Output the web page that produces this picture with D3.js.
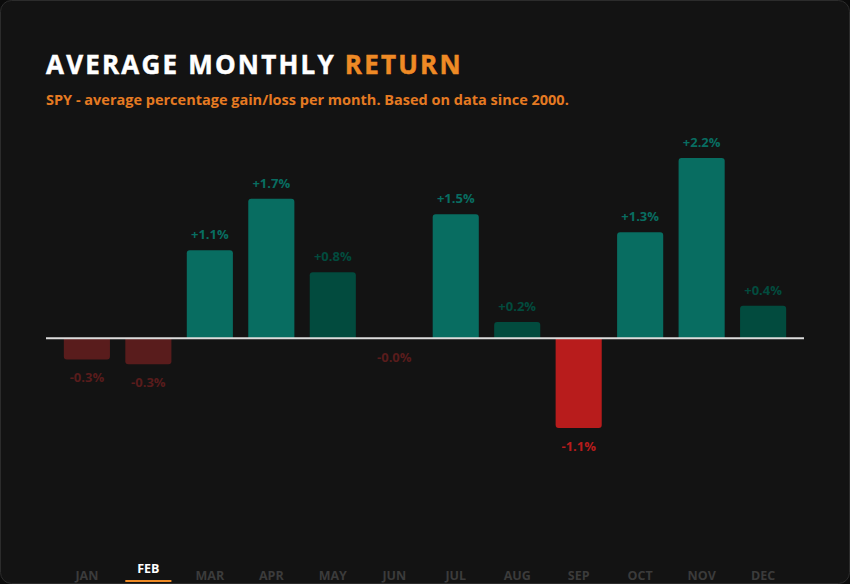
<!DOCTYPE html>
<html>
<head>
<meta charset="utf-8">
<script src="https://cdn.jsdelivr.net/npm/d3@7"></script>
<style>
  html, body { margin: 0; padding: 0; background: #0b0b0b; }
  svg { display: block; }
  text { font-family: "Open Sans", "Noto Sans", sans-serif; font-weight: 700; }
</style>
</head>
<body>
<svg id="chart" width="850" height="584"></svg>
<script>
"use strict";

// month labels and average return (%)
var months = ["JAN", "FEB", "MAR", "APR", "MAY", "JUN", "JUL", "AUG", "SEP", "OCT", "NOV", "DEC"];
var returns = [-0.26, -0.32, 1.08, 1.71, 0.81, -0.01, 1.52, 0.20, -1.10, 1.30, 2.21, 0.40];
var selectedMonth = "FEB";

var width = 850, height = 584;
var svg = d3.select("#chart");

// card background
svg.append("rect")
    .attr("x", 0.5).attr("y", 0.5)
    .attr("width", width - 1).attr("height", height - 1)
    .attr("rx", 11)
    .attr("fill", "#131313")
    .attr("stroke", "#2c2c2c");

// title
var title = svg.append("text")
    .attr("x", 46).attr("y", 74)
    .attr("font-size", 26)
    .attr("font-weight", 800)
    .attr("letter-spacing", 2.2)
    .attr("fill", "#ffffff")
    .attr("stroke", "#ffffff")
    .attr("stroke-width", 0.5);
title.append("tspan").text("AVERAGE MONTHLY ");
title.append("tspan").attr("fill", "#ef8a25").attr("stroke", "#ef8a25").text("RETURN");

svg.append("text")
    .attr("x", 46).attr("y", 105)
    .attr("font-size", 14.5)
    .attr("fill", "#e57a22")
    .text("SPY - average percentage gain/loss per month. Based on data since 2000.");

// scales
var x = d3.scaleBand()
    .domain(months)
    .range([46, 804])
    .paddingInner(0.25)
    .paddingOuter(0.29);

var y = d3.scaleLinear()
    .domain([-1.1, 2.21])
    .range([428, 158]);

function colorFor(v) {
    if (v >= 0) return Math.abs(v) >= 1 ? "#086d61" : "#024b3e";
    return Math.abs(v) >= 1 ? "#b81c1c" : "#591c1c";
}

// bar with rounded corners on the outer end only
function barPath(d, i) {
    var v = returns[i];
    var x0 = x(d), w = x.bandwidth();
    var y0 = y(0), y1 = y(v);
    var h = Math.abs(y1 - y0);
    var r = Math.min(3, h / 2, w / 2);
    var p = d3.path();
    if (v >= 0) {
        p.moveTo(x0, y0);
        p.lineTo(x0, y1 + r);
        p.arcTo(x0, y1, x0 + r, y1, r);
        p.lineTo(x0 + w - r, y1);
        p.arcTo(x0 + w, y1, x0 + w, y1 + r, r);
        p.lineTo(x0 + w, y0);
    } else {
        p.moveTo(x0, y0);
        p.lineTo(x0, y1 - r);
        p.arcTo(x0, y1, x0 + r, y1, r);
        p.lineTo(x0 + w - r, y1);
        p.arcTo(x0 + w, y1, x0 + w, y1 - r, r);
        p.lineTo(x0 + w, y0);
    }
    p.closePath();
    return p.toString();
}

svg.append("g").attr("class", "bars")
    .selectAll("path")
    .data(months)
    .join("path")
    .attr("d", barPath)
    .attr("fill", (d, i) => colorFor(returns[i]));

// value labels
var fmt = d3.format("+.1f");
svg.append("g").attr("class", "values")
    .selectAll("text")
    .data(months)
    .join("text")
    .attr("x", d => x(d) + x.bandwidth() / 2)
    .attr("y", (d, i) => returns[i] >= 0 ? y(returns[i]) - 11 : y(returns[i]) + 23)
    .attr("text-anchor", "middle")
    .attr("font-size", 13)
    .attr("fill", (d, i) => colorFor(returns[i]))
    .text((d, i) => (returns[i] < 0 ? "-" + Math.abs(returns[i]).toFixed(1) : fmt(returns[i])) + "%");

// zero line
svg.append("line")
    .attr("x1", 46).attr("x2", 804)
    .attr("y1", y(0)).attr("y2", y(0))
    .attr("stroke", "#dcdcdc")
    .attr("stroke-width", 2);

// month tabs along the bottom
var tabs = svg.append("g").attr("class", "tabs");
tabs.selectAll("text")
    .data(months)
    .join("text")
    .attr("x", d => x(d) + x.bandwidth() / 2)
    .attr("y", d => d === selectedMonth ? 573 : 580)
    .attr("text-anchor", "middle")
    .attr("font-size", 12.5)
    .attr("fill", d => d === selectedMonth ? "#ffffff" : "#3b3b3b")
    .text(d => d);

tabs.append("rect")
    .attr("x", x(selectedMonth))
    .attr("y", 580)
    .attr("width", x.bandwidth())
    .attr("height", 2)
    .attr("fill", "#ef8a25");
</script>
</body>
</html>
